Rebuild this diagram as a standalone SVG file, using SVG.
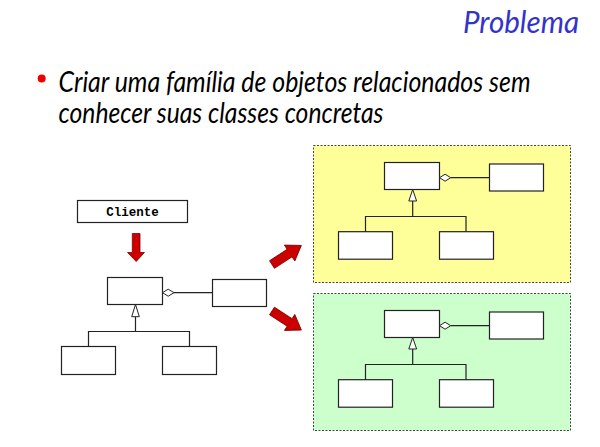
<svg xmlns="http://www.w3.org/2000/svg" width="600" height="447" viewBox="0 0 600 447">
<defs>
<style>
.box{fill:#fff;stroke:#222;stroke-width:1.2}
.ln{fill:none;stroke:#222;stroke-width:1.2}
.dia{fill:#fff;stroke:#222;stroke-width:1}
.tri{fill:#fff;stroke:#222;stroke-width:1}
.red{fill:#cc0000;stroke:#7a0000;stroke-width:0.8}
.panel{stroke:#444;stroke-width:1;stroke-dasharray:2,1.5}
.title{font-family:Lato,"Open Sans",sans-serif;font-style:italic;font-size:30px;fill:#3333cc}
.body{font-family:Lato,"Open Sans",sans-serif;font-style:italic;font-size:28px;fill:#000}
.mono{font-family:"Liberation Mono",monospace;font-weight:bold;font-size:12.5px;fill:#000}
</style>
<path id="arr" d="M0,-4.5 L21,-4.5 L21,-9.5 L35,0 L21,9.5 L21,4.5 L0,4.5 Z"/>
</defs>
<rect width="600" height="447" fill="#fff"/>
<g id="title"><text class="title" x="463" y="33" textLength="116" lengthAdjust="spacingAndGlyphs">Problema</text></g>
<g id="bullet">
<circle cx="41.7" cy="78.5" r="4" fill="#ee0000"/>
<text class="body" x="58.5" y="92" textLength="472" lengthAdjust="spacingAndGlyphs">Criar uma família de objetos relacionados sem</text>
<text class="body" x="58.5" y="123.3" textLength="325" lengthAdjust="spacingAndGlyphs">conhecer suas classes concretas</text>
</g>
<g id="cliente">
<rect class="box" x="77.5" y="200.5" width="110" height="22"/>
<text class="mono" x="132.5" y="215.5" text-anchor="middle">Cliente</text>
</g>
<g id="arrows">
<path class="red" d="M132.3,233.5 L140,233.5 L140,252.5 L144.5,252.5 L136.2,261.5 L127.5,252.5 L132.3,252.5 Z"/>
<use href="#arr" class="red" transform="translate(272,264.5) rotate(-33)"/>
<use href="#arr" class="red" transform="translate(272,311) rotate(33)"/>
</g>
<g id="left-diagram">
<g id="l-main"><rect class="box" x="107.5" y="277.5" width="55" height="27"/></g>
<g id="l-part"><rect class="box" x="212.5" y="279.5" width="54" height="27"/></g>
<g id="l-sub1"><rect class="box" x="61.5" y="346.5" width="54" height="28"/></g>
<g id="l-sub2"><rect class="box" x="162.5" y="346.5" width="54" height="28"/></g>
<g id="l-conn">
<path class="ln" d="M174,292.7 H212.5"/>
<path class="dia" d="M162.5,292.7 L168.2,289.2 L174,292.7 L168.2,296.2 Z"/>
<path class="ln" d="M135.5,316.7 V331.5 M88.5,346.5 V331.5 H189.5 V346.5"/>
<path class="tri" d="M135.5,304.5 L139.3,316.7 L131.7,316.7 Z"/>
</g>
</g>
<g id="yellow-panel">
<rect class="panel" x="313.5" y="145.5" width="257" height="137" fill="#ffff99"/>
<g id="y-main"><rect class="box" x="384.5" y="162.5" width="55" height="27"/></g>
<g id="y-part"><rect class="box" x="489.5" y="164" width="54" height="27"/></g>
<g id="y-sub1"><rect class="box" x="338.5" y="231.7" width="54" height="27.5"/></g>
<g id="y-sub2"><rect class="box" x="439.5" y="231.7" width="54" height="27.5"/></g>
<g id="y-conn">
<path class="ln" d="M450.7,177.7 H489.5"/>
<path class="dia" d="M439.5,177.7 L445.1,174.2 L450.7,177.7 L445.1,181.2 Z"/>
<path class="ln" d="M412.7,201 V216.5 M365.5,231.7 V216.5 H466 V231.7"/>
<path class="tri" d="M412.7,189.5 L416.6,201 L408.8,201 Z"/>
</g>
</g>
<g id="green-panel">
<rect class="panel" x="313.5" y="293.5" width="257" height="137" fill="#ccffcc"/>
<g id="g-main"><rect class="box" x="384.5" y="310.5" width="55" height="27"/></g>
<g id="g-part"><rect class="box" x="489.5" y="312" width="54" height="27"/></g>
<g id="g-sub1"><rect class="box" x="338.5" y="379.7" width="54" height="27.5"/></g>
<g id="g-sub2"><rect class="box" x="439.5" y="379.7" width="54" height="27.5"/></g>
<g id="g-conn">
<path class="ln" d="M450.7,325.7 H489.5"/>
<path class="dia" d="M439.5,325.7 L445.1,322.2 L450.7,325.7 L445.1,329.2 Z"/>
<path class="ln" d="M412.7,349 V364.5 M365.5,379.7 V364.5 H466 V379.7"/>
<path class="tri" d="M412.7,337.5 L416.6,349 L408.8,349 Z"/>
</g>
</g>
</svg>
